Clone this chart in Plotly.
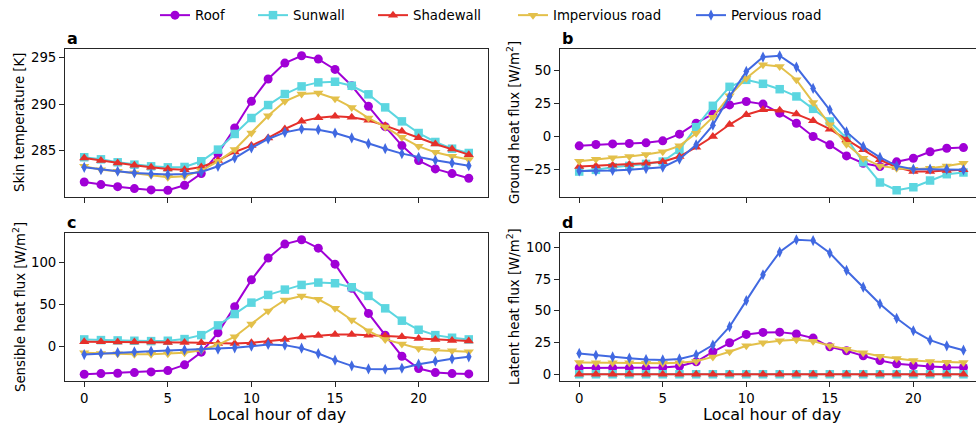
import plotly.graph_objects as go
from plotly.subplots import make_subplots

hours = list(range(24))
series_names = ["Roof", "Sunwall", "Shadewall", "Impervious road", "Pervious road"]
series_colors = ["#A000D6", "#5CD6E0", "#E5302B", "#E3C04A", "#4169E1"]
series_symbols = ["circle", "square", "triangle-up", "triangle-down", "diamond-tall"]
series_sizes = [9, 8.5, 9, 9, 8]

# (a) Skin temperature [K]
skin_roof = [281.64, 281.36, 281.14, 280.93, 280.79, 280.75, 281.29, 282.54, 284.68, 287.43, 290.29, 292.68,
             294.39, 295.18, 294.82, 293.71, 291.96, 289.75, 287.57, 285.54, 283.93, 283.04, 282.54, 282.04]
skin_sunwall = [284.29, 284.07, 283.75, 283.5, 283.32, 283.21, 283.25, 283.86, 285.11, 286.79, 288.5, 289.89,
                291.07, 291.89, 292.32, 292.39, 291.96, 291.04, 289.64, 288.14, 286.89, 285.93, 285.21, 284.75]
skin_shadewall = [284.21, 283.93, 283.68, 283.43, 283.21, 283.04, 282.96, 283.25, 283.93, 284.86, 285.54, 286.36,
                  287.32, 288.14, 288.54, 288.68, 288.57, 288.25, 287.68, 287.07, 286.39, 285.71, 285.18, 284.57]
skin_impervious = [283.32, 282.96, 282.79, 282.61, 282.36, 282.14, 282.25, 282.86, 283.86, 285.11, 286.89, 288.75,
                   290.29, 291.07, 291.18, 290.57, 289.64, 288.5, 287.54, 286.43, 285.46, 284.82, 284.39, 284.04]
skin_pervious = [283.21, 282.96, 282.79, 282.61, 282.5, 282.43, 282.5, 282.71, 283.32, 284.21, 285.29, 286.25,
                 286.96, 287.32, 287.25, 286.89, 286.36, 285.75, 285.21, 284.68, 284.29, 283.96, 283.68, 283.39]

# (b) Ground heat flux [W/m2]
ground_roof = [-7.1, -6.1, -5.6, -5.3, -4.8, -3.3, 1.8, 10.1, 17.2, 24.0, 26.6, 24.6,
               17.7, 10.1, 0.0, -6.3, -14.7, -20.3, -22.8, -19.2, -16.5, -11.6, -8.9, -8.4]
ground_sunwall = [-26.6, -25.3, -23.3, -22.3, -20.8, -19.0, -10.1, 7.1, 23.3, 37.7, 43.0, 40.0,
                  35.9, 30.4, 21.0, 11.4, -1.3, -19.5, -34.9, -40.8, -38.5, -33.4, -28.6, -27.3]
ground_shadewall = [-22.8, -22.3, -21.8, -21.3, -20.3, -19.2, -15.2, -8.1, 0.0, 9.1, 16.5, 20.3,
                    20.0, 17.0, 11.9, 5.6, -2.5, -10.1, -17.7, -23.3, -26.6, -26.6, -25.8, -25.3]
ground_impervious = [-18.7, -17.2, -16.2, -15.2, -13.7, -11.6, -7.1, 2.5, 14.7, 30.9, 44.3, 54.4,
                     53.2, 43.0, 25.8, 8.9, -5.8, -16.5, -22.3, -24.1, -24.8, -24.1, -22.3, -20.3]
ground_pervious = [-26.1, -26.1, -25.8, -25.3, -24.3, -23.3, -17.2, -6.3, 8.6, 30.4, 49.4, 60.3,
                   61.3, 52.7, 36.5, 20.3, 3.5, -7.6, -15.9, -22.3, -24.8, -24.8, -24.8, -25.3]

# (c) Sensible heat flux [W/m2]
sens_roof = [-33.5, -32.7, -32.3, -31.5, -30.7, -29.1, -22.3, -7.2, 15.9, 47.0, 78.9, 104.8,
             121.5, 126.7, 116.7, 97.6, 68.9, 39.0, 13.0, -12.0, -26.7, -31.5, -32.7, -33.1]
sens_sunwall = [8.0, 7.2, 6.8, 6.4, 6.0, 6.4, 8.4, 13.1, 24.7, 38.2, 51.8, 61.0,
                67.3, 72.9, 75.7, 74.9, 70.1, 59.8, 45.0, 30.3, 19.5, 13.1, 10.0, 8.0]
sens_shadewall = [5.2, 5.2, 4.8, 4.8, 4.8, 4.4, 4.4, 4.0, 3.2, 3.2, 4.0, 5.6,
                  8.0, 10.8, 12.7, 13.9, 13.9, 13.1, 12.0, 11.2, 9.2, 8.0, 6.8, 6.0]
sens_impervious = [-8.0, -8.8, -9.2, -9.6, -9.6, -9.2, -8.0, -4.8, 1.6, 11.2, 26.3, 41.8,
                   55.0, 59.8, 55.8, 45.0, 31.1, 18.3, 8.0, 2.4, -2.8, -4.8, -5.6, -6.8]
sens_pervious = [-10.0, -8.8, -7.6, -6.8, -6.0, -5.2, -4.4, -4.0, -3.6, -2.0, 0.0, 2.0,
                 1.2, -2.4, -8.8, -16.7, -23.5, -27.1, -27.5, -26.3, -21.5, -17.9, -15.1, -12.7]

# (d) Latent heat flux [W/m2]
lat_roof = [5.0, 5.0, 5.0, 5.0, 5.0, 5.3, 6.3, 9.8, 17.7, 24.8, 31.4, 33.0,
            33.2, 31.7, 28.5, 21.6, 18.5, 14.5, 10.8, 8.2, 6.9, 6.1, 5.5, 5.3]
lat_sunwall = [0.0] * 24
lat_shadewall = [0.0] * 24
lat_impervious = [9.2, 9.0, 9.0, 9.0, 8.7, 8.7, 9.0, 10.3, 13.7, 17.7, 22.4, 24.8,
                  26.4, 27.2, 26.1, 22.4, 19.8, 16.9, 14.2, 12.4, 10.8, 10.0, 9.5, 9.2]
lat_pervious = [16.4, 15.0, 13.7, 12.7, 11.6, 11.3, 12.1, 15.3, 23.0, 37.5, 58.0, 78.4,
                96.3, 106.0, 105.3, 95.5, 81.8, 68.6, 55.4, 44.1, 34.3, 26.9, 22.4, 19.0]

panels = [
    ("a", 1, 1, "Skin temperature [K]", [skin_roof, skin_sunwall, skin_shadewall, skin_impervious, skin_pervious],
     [285, 290, 295]),
    ("b", 1, 2, "Ground heat flux [W/m<sup>2</sup>]",
     [ground_roof, ground_sunwall, ground_shadewall, ground_impervious, ground_pervious], [-25, 0, 25, 50]),
    ("c", 2, 1, "Sensible heat flux [W/m<sup>2</sup>]",
     [sens_roof, sens_sunwall, sens_shadewall, sens_impervious, sens_pervious], [0, 50, 100]),
    ("d", 2, 2, "Latent heat flux [W/m<sup>2</sup>]",
     [lat_roof, lat_sunwall, lat_shadewall, lat_impervious, lat_pervious], [0, 25, 50, 75, 100]),
]

W, H = 976, 428
FONT = "DejaVu Sans"
AX = "#262626"

# pixel x where each legend entry's handle starts
legend_px = [163, 261, 381, 521, 699]
legend_ids = ["legend", "legend2", "legend3", "legend4", "legend5"]

fig = make_subplots(rows=2, cols=2)

xdom = {1: (65 / W, 488 / W), 2: (560 / W, 1.0)}
ydom = {1: (1 - 197 / H, 1 - 49 / H), 2: (1 - 381 / H, 1 - 233 / H)}

for label, r, c, ytitle, data, yt in panels:
    for i, vals in enumerate(data):
        fig.add_trace(go.Scatter(
            x=hours, y=vals, mode="lines+markers", name=series_names[i],
            legendgroup=series_names[i], showlegend=(label == "a"), legend=legend_ids[i],
            line=dict(color=series_colors[i], width=2),
            marker=dict(symbol=series_symbols[i], size=series_sizes[i], color=series_colors[i],
                        line=dict(width=0)),
        ), row=r, col=c)
    allv = [v for s in data for v in s]
    lo, hi = min(allv), max(allv)
    pad = 0.05 * (hi - lo)
    xr = [-1.15, 24.15] if c == 1 else [-1.15, 23.75]
    fig.update_xaxes(
        domain=list(xdom[c]), range=xr, tickvals=[0, 5, 10, 15, 20],
        showticklabels=(r == 2), ticks="outside", ticklen=5, tickwidth=1, tickcolor=AX,
        showline=True, linecolor=AX, linewidth=1, mirror=True, showgrid=False, zeroline=False,
        tickfont=dict(family=FONT, size=13.3, color="black"), row=r, col=c)
    fig.update_yaxes(
        domain=list(ydom[r]), range=[lo - pad, hi + pad], tickvals=yt,
        ticks="outside", ticklen=5, tickwidth=1, tickcolor=AX,
        showline=True, linecolor=AX, linewidth=1, mirror=(c == 1), showgrid=False, zeroline=False,
        tickfont=dict(family=FONT, size=13.3, color="black"), row=r, col=c)
    ycen = (ydom[r][0] + ydom[r][1]) / 2
    xt = 19 / W if c == 1 else 513 / W
    fig.add_annotation(text=ytitle, x=xt, y=ycen, xref="paper", yref="paper", textangle=-90,
                       showarrow=False, xanchor="center", yanchor="middle",
                       font=dict(family=FONT, size=13.3, color="black"))
    fig.add_annotation(text="<b>%s</b>" % label, x=xdom[c][0], y=ydom[r][1] + 11 / H,
                       xref="paper", yref="paper", showarrow=False, xanchor="left", yanchor="middle",
                       font=dict(family=FONT, size=16, color="black"))

for c in (1, 2):
    xc = (xdom[c][0] + (488 / W if c == 1 else (560 + 423) / W)) / 2
    fig.add_annotation(text="Local hour of day", x=xc, y=1 - 414 / H, xref="paper", yref="paper",
                       showarrow=False, xanchor="center", yanchor="middle",
                       font=dict(family=FONT, size=16, color="black"))

legend_common = dict(orientation="h", xanchor="left", y=1.0, yanchor="top",
                     font=dict(family=FONT, size=13.3, color="black"), bgcolor="rgba(0,0,0,0)",
                     itemwidth=30, tracegroupgap=0)
layout_legends = {}
for lid, px in zip(legend_ids, legend_px):
    layout_legends[lid] = dict(legend_common, x=(px - 8) / W)

fig.update_layout(
    width=W, height=H, margin=dict(l=0, r=0, t=0, b=0),
    paper_bgcolor="white", plot_bgcolor="white",
    font=dict(family=FONT, size=13.3, color="black"),
    showlegend=True,
    **layout_legends,
)

fig.write_html("out.html")
